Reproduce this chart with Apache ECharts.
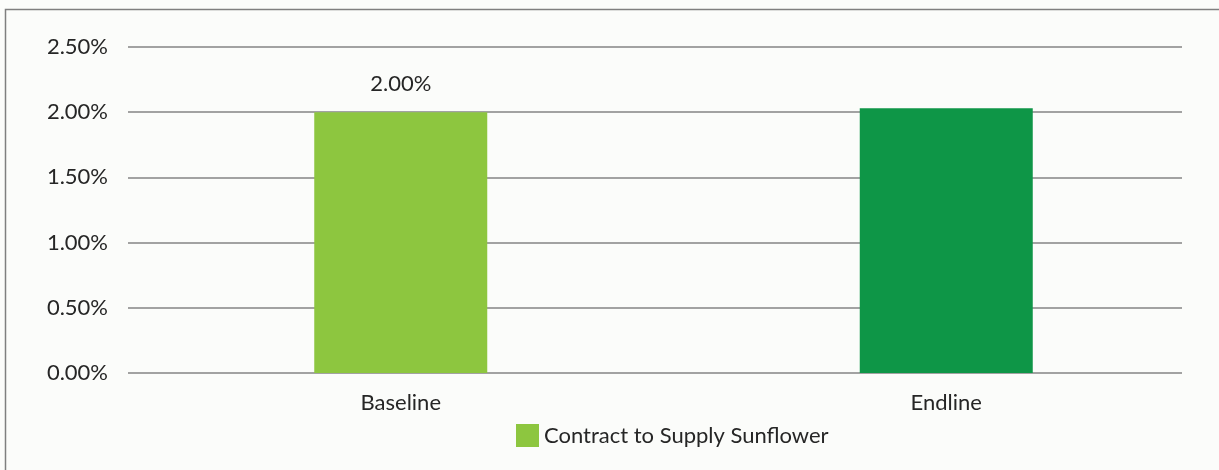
<!DOCTYPE html>
<html>
<head>
<meta charset="utf-8">
<script src="https://cdn.jsdelivr.net/npm/echarts@6/dist/echarts.min.js"></script>
<style>
  html, body { margin: 0; padding: 0; background: #fbfcfa; }
  #chart { width: 1219px; height: 470px; }
</style>
</head>
<body>
<div id="chart"></div>
<script>
// Share of farmers with a contract to supply sunflower
const categories = ['Baseline', 'Endline'];
const seriesName = 'Contract to Supply Sunflower';
const values = [2.00, 2.03];
const showLabel = [true, false];
const yTicks = [0, 0.5, 1.0, 1.5, 2.0, 2.5];
const barColors = ['#8dc63f', '#0e9647'];

const textColor = '#262626';
const fontFamily = 'Lato, "Noto Sans", sans-serif';
const fontSize = 22;

const chart = echarts.init(document.getElementById('chart'));

const yMin = yTicks[0];
const yMax = yTicks[yTicks.length - 1];
const yStep = yTicks[1] - yTicks[0];

chart.setOption({
  backgroundColor: '#fbfcfa',
  animation: false,
  textStyle: { fontFamily: fontFamily, color: textColor },
  graphic: [{
    type: 'polyline',
    shape: { points: [[5.5, 470], [5.5, 9.5], [1219, 9.5]] },
    style: { stroke: '#7f7f7f', lineWidth: 1.5, fill: null }
  }],
  legend: {
    data: [{ name: seriesName, icon: 'rect', itemStyle: { color: barColors[0] } }],
    bottom: 18,
    left: 511,
    itemWidth: 23,
    itemHeight: 23,
    itemGap: 6,
    textStyle: { fontSize: fontSize, color: textColor, fontFamily: fontFamily }
  },
  grid: [
    // gridline / value-axis area
    { left: 128, width: 1054, top: 47, bottom: 97 },
    // bar area
    { left: 128, width: 1095, top: 47, bottom: 97 }
  ],
  xAxis: [
    { type: 'category', gridIndex: 0, data: categories, show: false },
    {
      type: 'category', gridIndex: 1, data: categories,
      axisLine: { show: false }, axisTick: { show: false },
      axisLabel: { fontSize: fontSize, color: textColor, margin: 19, fontFamily: fontFamily }
    }
  ],
  yAxis: [
    {
      type: 'value', gridIndex: 0, min: yMin, max: yMax, interval: yStep,
      axisLine: { show: false }, axisTick: { show: false },
      axisLabel: {
        fontSize: fontSize, color: textColor, margin: 20, fontFamily: fontFamily,
        formatter: v => v.toFixed(2) + '%'
      },
      splitLine: { lineStyle: { color: '#858585', width: 1.5 } }
    },
    {
      type: 'value', gridIndex: 1, min: yMin, max: yMax, interval: yStep,
      show: false, splitLine: { show: false }
    }
  ],
  series: [{
    name: seriesName,
    type: 'bar',
    xAxisIndex: 1,
    yAxisIndex: 1,
    barWidth: 173,
    data: values.map((v, i) => ({
      value: v,
      itemStyle: { color: barColors[i] },
      label: {
        show: showLabel[i], position: 'top', distance: 17,
        fontSize: fontSize, color: textColor, fontFamily: fontFamily,
        formatter: p => p.value.toFixed(2) + '%'
      }
    }))
  }]
});
</script>
</body>
</html>
